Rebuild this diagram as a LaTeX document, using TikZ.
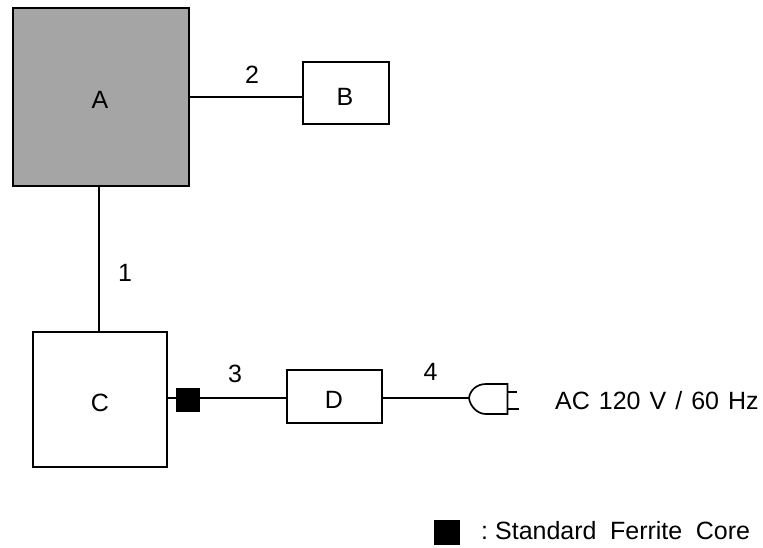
\documentclass[tikz,border=0pt]{standalone}
\usepackage{fontspec}
\setmainfont{Liberation Sans}
\begin{document}
\begin{tikzpicture}[x=1pt,y=-1pt,
 box/.style={draw=black,line width=1.8pt,inner sep=0,fill=white},
 wire/.style={draw=black,line width=1.7pt},
 core/.style={draw=none,fill=black,minimum width=24,minimum height=24,inner sep=0},
 lab/.style={font=\fontsize{25}{27}\selectfont,inner sep=0,anchor=base}]
\useasboundingbox (0,0) rectangle (763,547);
\node[box,fill={rgb,255:red,165;green,165;blue,165},minimum width=176,minimum height=178] (A) at (101,97) {};
\node[box,minimum width=86,minimum height=62] (B) at (346,93) {};
\node[box,minimum width=134,minimum height=135] (C) at (100,399.5) {};
\node[box,minimum width=95,minimum height=53] (D) at (334.5,396.5) {};
\node[lab] at (100,108) {A};
\node[lab] at (345,105) {B};
\node[lab] at (100,411) {C};
\node[lab] at (334,408) {D};
\draw[wire] (A.south -| 99,0) -- (C.north -| 99,0);
\draw[wire] (A.east |- 0,97) -- (B.west |- 0,97);
\node[core] (F) at (188,399.5) {};
\coordinate (W) at (188,398);
\draw[wire] (C.east |- W) -- (D.west |- W);
\coordinate (P) at (469,398);
\draw[wire] (D.east |- P) -- (P);
\draw[wire,fill=white] (P) .. controls (470,390) and (477,384) .. (486,384) -- (507.5,384) -- (507.5,414) -- (486,414) .. controls (477,414) and (470,406) .. (P) -- cycle;
\draw[wire] (507.5,392) -- (517,392);
\draw[wire] (507.5,409) -- (519,409);
\node[lab] at (125,281) {1};
\node[lab] at (252,83) {2};
\node[lab] at (235,382) {3};
\node[lab] at (430.5,380) {4};
\node[lab,anchor=base west] at (555,409) {\spaceskip=9pt AC 120 V / 60 Hz};
\node[core,minimum width=26,minimum height=25] (L) at (447,532.5) {};
\node[lab,anchor=base west] at (481,539) {:\hspace{7pt}\spaceskip=13.5pt Standard Ferrite Core};
\end{tikzpicture}
\end{document}
